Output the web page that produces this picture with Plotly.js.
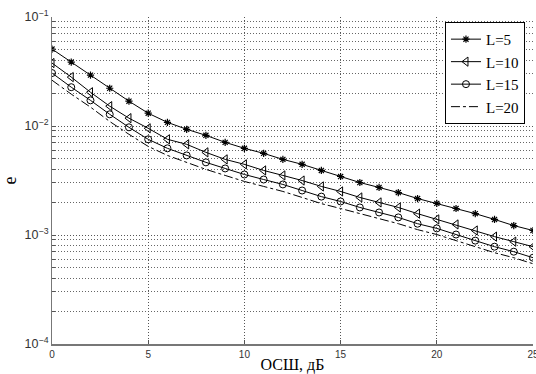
<!DOCTYPE html>
<html>
<head>
<meta charset="utf-8">
<script src="https://cdn.plot.ly/plotly-3.0.1.min.js"></script>
<style>html,body{margin:0;padding:0;background:#fff;}#chart{width:536px;height:374px;}</style>
</head>
<body>
<div id="chart"></div>
<script>
const snr = [0,1,2,3,4,5,6,7,8,9,10,11,12,13,14,15,16,17,18,19,20,21,22,23,24,25];
const seriesNames = ["L=5","L=10","L=15","L=20"];
const eL5 = [0.0508,0.0386,0.0293,0.0222,0.0169,0.0131,0.0108,0.00933,0.00821,0.00708,0.00624,0.00561,0.00494,0.00445,0.00391,0.00344,0.00303,0.00273,0.00245,0.00216,0.00195,0.00175,0.00157,0.00139,0.00122,0.00110];
const eL10 = [0.0378,0.0281,0.0204,0.0152,0.0118,0.00953,0.00755,0.00679,0.00573,0.00494,0.00445,0.00391,0.00352,0.00316,0.00279,0.00251,0.00221,0.00199,0.00179,0.00157,0.00139,0.00125,0.00110,0.000966,0.000869,0.000781];
const eL15 = [0.0306,0.0227,0.0172,0.0128,0.00973,0.00755,0.00624,0.00537,0.00464,0.00408,0.00359,0.00323,0.00291,0.00256,0.00225,0.00203,0.00179,0.00161,0.00145,0.00127,0.00115,0.00101,0.000888,0.000781,0.000703,0.000619];
const eL20 = [0.0263,0.0196,0.0149,0.0110,0.00839,0.00650,0.00537,0.00463,0.00400,0.00352,0.00310,0.00279,0.00251,0.00221,0.00194,0.00175,0.00157,0.00142,0.00127,0.00112,0.00101,0.000888,0.000781,0.000688,0.000619,0.000545];
const xTickVals = [0,5,10,15,20,25];

const traces = [
  {x: snr, y: eL5, name: seriesNames[0], mode: 'lines+markers',
   line: {color: '#000', width: 1},
   marker: {symbol: 'asterisk-open', size: 6, color: '#000', line: {color: '#000', width: 1.2}}},
  {x: snr, y: eL10, name: seriesNames[1], mode: 'lines+markers',
   line: {color: '#000', width: 1},
   marker: {symbol: 'triangle-left-open', size: 8, color: '#000', line: {color: '#000', width: 1}}},
  {x: snr, y: eL15, name: seriesNames[2], mode: 'lines+markers',
   line: {color: '#000', width: 1},
   marker: {symbol: 'circle-open', size: 7, color: '#000', line: {color: '#000', width: 1}}},
  {x: snr, y: eL20, name: seriesNames[3], mode: 'lines',
   line: {color: '#000', width: 1, dash: 'dashdot'}}
];

const gridDash = '1px,2px';
const layout = {
  width: 536, height: 374,
  margin: {l: 52, r: 3, t: 17, b: 30},
  paper_bgcolor: '#fff', plot_bgcolor: '#fff',
  showlegend: true,
  legend: {x: 0.817, y: 0.985, xanchor: 'left', yanchor: 'top',
    bgcolor: '#fff', bordercolor: '#000', borderwidth: 1,
    font: {family: 'Liberation Serif, Times New Roman, serif', size: 15, color: '#000'},
    tracegroupgap: 0, itemwidth: 30},
  xaxis: {
    range: [0, 25], tickvals: xTickVals, ticktext: xTickVals.map(String),
    ticklabeloverflow: 'allow',
    showgrid: true, gridcolor: '#555', griddash: gridDash, gridwidth: 1,
    zeroline: false, showline: true, linecolor: '#777', linewidth: 1.5,
    ticks: 'inside', ticklen: 4, tickcolor: '#555',
    tickfont: {family: 'Liberation Sans, Arial, sans-serif', size: 10, color: '#333'},
    title: {text: 'ОСШ, дБ', font: {family: 'Liberation Serif, Times New Roman, serif', size: 16, color: '#000'}, standoff: 0}
  },
  yaxis: {
    type: 'log', range: [-4, -1], dtick: 1,
    exponentformat: 'power',
    showgrid: true, gridcolor: '#555', griddash: gridDash, gridwidth: 1,
    zeroline: false, showline: true, linecolor: '#777', linewidth: 1.5,
    ticks: 'inside', ticklen: 4, tickcolor: '#555',
    tickfont: {family: 'Liberation Sans, Arial, sans-serif', size: 10, color: '#333'},
    minor: {dtick: 'D1', showgrid: true, gridcolor: '#666', griddash: gridDash, gridwidth: 1, ticks: 'inside', ticklen: 3, tickcolor: '#555'},
    title: {text: 'e', font: {family: 'Liberation Serif, Times New Roman, serif', size: 18, color: '#000'}, standoff: 6}
  }
};

Plotly.newPlot('chart', traces, layout, {displayModeBar: false, staticPlot: true});
</script>
</body>
</html>
